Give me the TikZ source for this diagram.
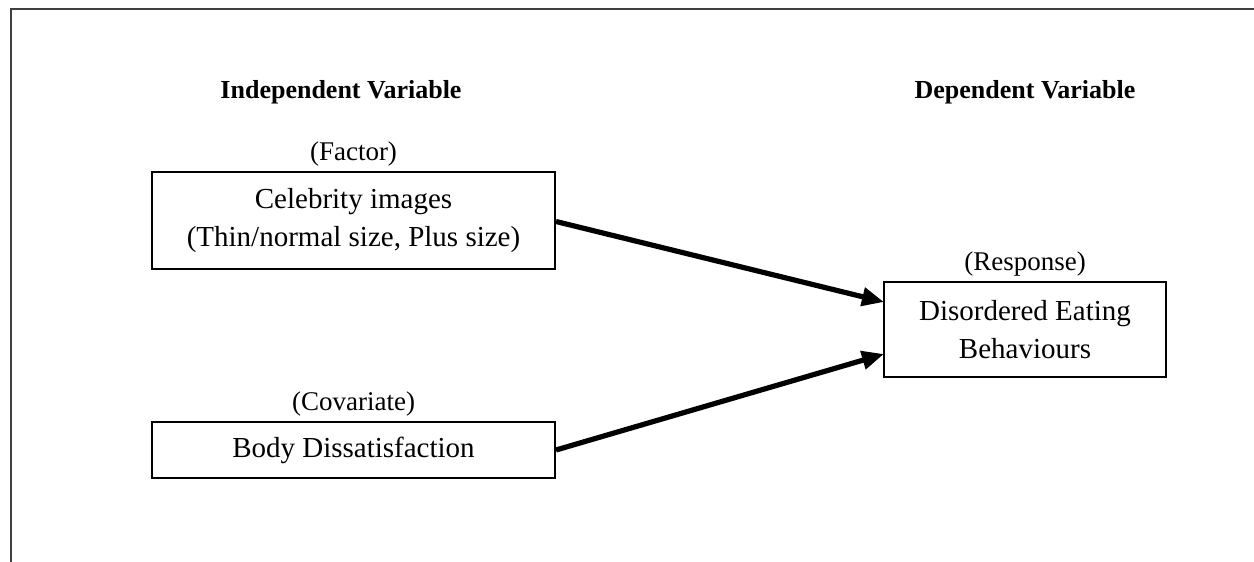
\documentclass[tikz,border=0pt]{standalone}
\usepackage{fontspec}
\setmainfont{Liberation Serif}
\usetikzlibrary{arrows.meta}
\begin{document}
\begin{tikzpicture}[x=0.5pt,y=-0.5pt,
  box/.style={draw,line width=1pt,inner sep=0pt,align=center,font=\fontsize{14.5}{18.8}\selectfont},
  lbl/.style={font=\fontsize{13.5}{15}\selectfont,inner sep=2pt},
  head/.style={font=\bfseries\fontsize{13}{15}\selectfont},
  link/.style={line width=2.6pt,-{Triangle[length=11pt,width=9pt]}}]
\useasboundingbox (0,0) rectangle (1254,562);
% frame edges
\draw[line width=1pt,black!75] (11,562) -- (11,9) -- (1254,9);
% headings
\node[head] (hind) at (341,92) {Independent Variable};
\node[head] (hdep) at (1025,92) {Dependent Variable};
% boxes
\node[box,minimum width=201.5pt,minimum height=48.5pt] (celeb) at (353.5,220.5)
  {Celebrity images\\(Thin/normal size, Plus size)};
\node[box,minimum width=201.5pt,minimum height=28pt] (body) at (353.5,450)
  {Body Dissatisfaction};
\node[box,minimum width=141pt,minimum height=47.5pt] (deb) at (1025,329.5)
  {Disordered Eating\\Behaviours};
% role labels
\node[lbl,above=0pt] (lfac) at (celeb.north) {(Factor)};
\node[lbl,above=0pt] (lcov) at (body.north) {(Covariate)};
\node[lbl,above=0pt] (lres) at (deb.north) {(Response)};
% connectors
\coordinate (e1) at (884,302);
\coordinate (e2) at (884,354);
\draw[link] (celeb.east) ++(0,1) -- (e1);
\draw[link] (body.east) -- (e2);
\end{tikzpicture}
\end{document}
